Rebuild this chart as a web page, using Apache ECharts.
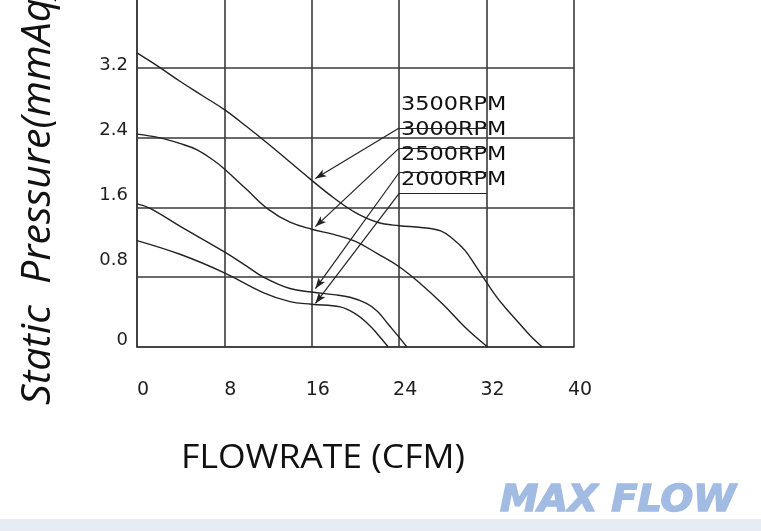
<!DOCTYPE html>
<html>
<head>
<meta charset="utf-8">
<script src="https://cdn.jsdelivr.net/npm/echarts@6/dist/echarts.min.js"></script>
<style>
  html, body { margin: 0; background: #fff; }
  #chart { width: 761px; height: 531px; }
</style>
</head>
<body>
<div id="chart"></div>
<script>
const flowLabels = ['0', '8', '16', '24', '32', '40']
const pressureLabels = ['0', '0.8', '1.6', '2.4', '3.2', '4']
const rpmNames = ['3500RPM', '3000RPM', '2500RPM', '2000RPM']

// [CFM, mmAq]
const rpm3500 = [[0, 3.37], [2, 3.21], [4, 3.04], [6, 2.88], [8, 2.72], [10, 2.53], [12, 2.33], [14, 2.12],
  [16, 1.91], [18, 1.71], [20, 1.54], [22, 1.43], [24, 1.39], [26, 1.37], [27.8, 1.33], [29, 1.23],
  [30, 1.11], [31, 0.93], [32, 0.74], [33, 0.56], [34, 0.41], [35, 0.27], [36, 0.13], [37.1, 0]]
const rpm3000 = [[0, 2.44], [2, 2.40], [4, 2.33], [5.5, 2.26], [7, 2.14], [8, 2.04], [10, 1.81], [12, 1.58],
  [14, 1.43], [16, 1.35], [18, 1.29], [20, 1.21], [22, 1.07], [24, 0.92], [26, 0.72], [28, 0.49],
  [30, 0.23], [32.1, 0]]
const rpm2500 = [[0, 1.64], [1.2, 1.59], [4, 1.38], [8, 1.09], [10, 0.93], [11.6, 0.80], [14, 0.67],
  [16, 0.63], [18, 0.60], [19.5, 0.57], [21, 0.50], [22, 0.41], [23, 0.26], [24, 0.11], [24.7, 0]]
const rpm2000 = [[0, 1.22], [4, 1.06], [8, 0.85], [11.6, 0.62], [14, 0.52], [16, 0.49], [18.6, 0.46],
  [20, 0.38], [21.1, 0.27], [22, 0.15], [23, 0]]

const curves = [rpm3500, rpm3000, rpm2500, rpm2000]

// callout lines: leave the label block at 24 CFM, arrow lands on the curve near 16 CFM
const leaderFrom = [2.51, 2.28, 2.0, 1.76]
const leaderTo = [1.93, 1.38, 0.67, 0.50]

const gridLine = { color: '#3a3a3a', width: 1.6 }
const tickFont = { fontSize: 18, fontFamily: 'DejaVu Sans', color: '#1e1e1e' }

// the scanned y labels sit a little above their grid lines, not all by the same amount
const yLift = [14, 34, 24, 14, 4, 10]
const yRich = {}
yLift.forEach((p, i) => { yRich['l' + i] = Object.assign({ padding: [0, 0, p, 0] }, tickFont) })

const chart = echarts.init(document.getElementById('chart'))

const series = curves.map((pts, i) => ({
  name: rpmNames[i],
  type: 'line',
  data: pts,
  smooth: 0.4,
  showSymbol: false,
  lineStyle: { color: '#222', width: 1.4 },
  markLine: {
    silent: true,
    animation: false,
    symbol: ['none', 'arrow'],
    symbolSize: [6, 11],
    label: { show: false },
    lineStyle: { color: '#222', width: 1.2, type: 'solid' },
    data: [
      [{ coord: [24, leaderFrom[i]], symbol: 'none' }, { coord: [32, leaderFrom[i]], symbol: 'none' }],
      [{ coord: [24, leaderFrom[i]], symbol: 'none' }, { coord: [16.33, leaderTo[i]] }]
    ]
  }
}))

const option = {
  backgroundColor: '#fff',
  animation: false,
  grid: { left: 137, right: 187, top: -2, bottom: 184, containLabel: false, outerBoundsMode: 'none' },
  xAxis: {
    type: 'value',
    min: 0,
    max: 40,
    interval: 8,
    axisLine: { show: true, onZero: false, lineStyle: gridLine },
    axisTick: { show: false },
    splitLine: { show: true, lineStyle: gridLine },
    axisLabel: {
      margin: 34,
      fontSize: 19,
      fontFamily: 'DejaVu Sans',
      color: '#1e1e1e',
      padding: [0, 0, 0, 12],
      formatter: (v, i) => flowLabels[i]
    }
  },
  yAxis: {
    type: 'value',
    min: 0,
    max: 4,
    interval: 0.8,
    axisLine: { show: true, lineStyle: gridLine },
    axisTick: { show: false },
    splitLine: { show: true, lineStyle: gridLine },
    axisLabel: Object.assign({
      margin: 9,
      rich: yRich,
      formatter: (v, i) => '{l' + i + '|' + pressureLabels[i] + '}'
    }, tickFont)
  },
  graphic: [
    {
      type: 'text',
      x: 59,
      y: 405,
      rotation: Math.PI / 2,
      style: {
        text: 'Static  Pressure(mmAq)',
        font: 'italic 41px "Open Sans"',
        fill: '#111',
        align: 'left',
        verticalAlign: 'bottom'
      }
    },
    {
      type: 'text',
      x: 323,
      y: 459,
      scaleX: 1.11,
      style: {
        text: 'FLOWRATE (CFM)',
        font: '32px "Open Sans"',
        fill: '#111',
        align: 'center',
        verticalAlign: 'middle'
      }
    },
    ...rpmNames.map((name, i) => ({
      type: 'text',
      x: 401,
      y: 105 + i * 25,
      scaleX: 1.12,
      style: { text: name, font: '20px "DejaVu Sans"', fill: '#111', align: 'left', verticalAlign: 'middle' }
    })),
    {
      type: 'rect',
      shape: { x: 0, y: 519, width: 761, height: 12 },
      style: { fill: '#e7ecf4' }
    },
    {
      type: 'text',
      x: 500,
      y: 520,
      scaleX: 1.04,
      style: {
        text: 'MAX FLOW',
        font: 'italic bold 37px "DejaVu Sans"',
        fill: '#a2bbe2',
        stroke: '#a2bbe2',
        lineWidth: 1.5,
        align: 'left',
        verticalAlign: 'bottom'
      }
    }
  ],
  series: series
}

chart.setOption(option)
</script>
</body>
</html>
